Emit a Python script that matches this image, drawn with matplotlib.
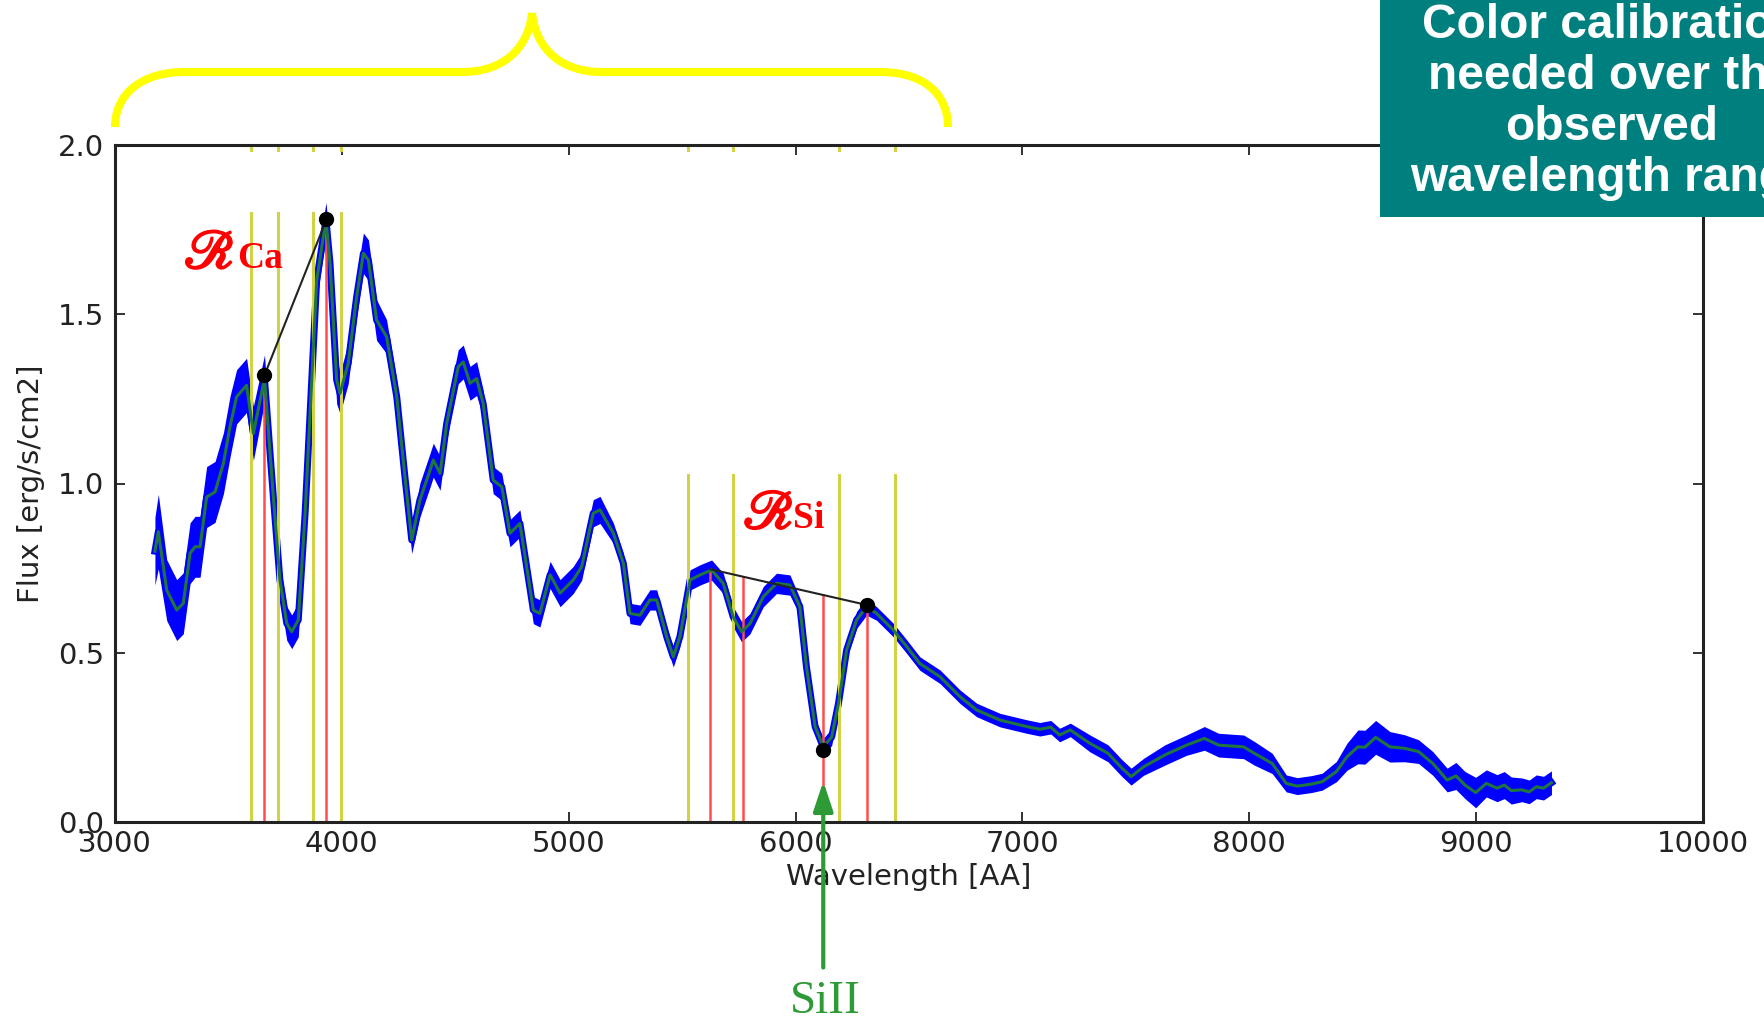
import numpy as np
import matplotlib
matplotlib.use('Agg')
import matplotlib.pyplot as plt
import matplotlib.patheffects as pe
from matplotlib.path import Path
from matplotlib.patches import PathPatch, Rectangle

# smoothed spectrum (green) and the scatter of the raw spectrum around it (blue)
wave = [3176, 3191, 3228, 3272, 3301, 3331, 3353, 3375, 3404, 3441,
        3478, 3507, 3536, 3580, 3610, 3659, 3698, 3727, 3757, 3779,
        3808, 3838, 3867, 3889, 3930, 3948, 3977, 3992, 4028, 4065,
        4095, 4117, 4153, 4197, 4242, 4278, 4308, 4344, 4389, 4403,
        4433, 4462, 4513, 4535, 4565, 4594, 4623, 4667, 4705, 4741,
        4785, 4844, 4873, 4918, 4962, 5020, 5057, 5108, 5138, 5197,
        5241, 5270, 5314, 5358, 5388, 5432, 5461, 5490, 5535, 5579,
        5630, 5681, 5725, 5762, 5799, 5858, 5916, 5975, 6019, 6048,
        6086, 6122, 6159, 6189, 6225, 6269, 6313, 6357, 6431, 6490,
        6548, 6637, 6725, 6798, 6901, 7019, 7077, 7125, 7164, 7211,
        7298, 7377, 7439, 7479, 7534, 7628, 7723, 7802, 7865, 7975,
        8022, 8101, 8163, 8211, 8274, 8321, 8384, 8431, 8479, 8510,
        8557, 8620, 8683, 8746, 8809, 8872, 8911, 8951, 8998, 9045,
        9092, 9124, 9155, 9202, 9234, 9265, 9297, 9332]
flux = [0.80, 0.858, 0.685, 0.626, 0.646, 0.794, 0.813, 0.813, 0.96, 0.975,
        1.06, 1.168, 1.256, 1.29, 1.148, 1.31, 0.96, 0.715, 0.587, 0.562,
        0.597, 0.912, 1.306, 1.60, 1.78, 1.65, 1.306, 1.266, 1.355, 1.551,
        1.68, 1.66, 1.483, 1.434, 1.256, 1.02, 0.833, 0.951, 1.04, 1.069,
        1.03, 1.177, 1.345, 1.359, 1.296, 1.31, 1.236, 1.01, 0.99, 0.853,
        0.882, 0.626, 0.616, 0.73, 0.676, 0.715, 0.754, 0.912, 0.922, 0.853,
        0.764, 0.616, 0.611, 0.656, 0.656, 0.547, 0.488, 0.547, 0.715, 0.73,
        0.744, 0.705, 0.606, 0.562, 0.586, 0.666, 0.705, 0.700, 0.636, 0.458,
        0.282, 0.222, 0.251, 0.35, 0.508, 0.597, 0.636, 0.616, 0.567, 0.518,
        0.468, 0.429, 0.37, 0.331, 0.301, 0.282, 0.274, 0.28, 0.257, 0.272,
        0.232, 0.203, 0.159, 0.134, 0.163, 0.198, 0.227, 0.247, 0.227, 0.222,
        0.203, 0.173, 0.114, 0.106, 0.112, 0.119, 0.149, 0.193, 0.222, 0.221,
        0.25, 0.222, 0.218, 0.208, 0.173, 0.124, 0.136, 0.109, 0.087, 0.114,
        0.10, 0.109, 0.093, 0.095, 0.089, 0.104, 0.10, 0.116]
spread = [0.10, 0.11, 0.09, 0.09, 0.09, 0.09, 0.09, 0.09, 0.09, 0.09,
          0.09, 0.09, 0.08, 0.08, 0.08, 0.07, 0.05, 0.05, 0.05, 0.05,
          0.05, 0.05, 0.06, 0.06, 0.05, 0.06, 0.07, 0.06, 0.06, 0.06,
          0.06, 0.06, 0.06, 0.05, 0.05, 0.04, 0.04, 0.05, 0.05, 0.05,
          0.05, 0.05, 0.05, 0.05, 0.05, 0.05, 0.04, 0.04, 0.04, 0.04,
          0.04, 0.04, 0.04, 0.04, 0.04, 0.04, 0.04, 0.04, 0.04, 0.03,
          0.03, 0.03, 0.03, 0.03, 0.03, 0.03, 0.03, 0.03, 0.03, 0.03,
          0.03, 0.03, 0.03, 0.03, 0.03, 0.03, 0.03, 0.03, 0.025, 0.025,
          0.025, 0.025, 0.025, 0.025, 0.025, 0.025, 0.025, 0.02, 0.02, 0.02,
          0.02, 0.02, 0.02, 0.02, 0.02, 0.02, 0.02, 0.02, 0.02, 0.02,
          0.025, 0.025, 0.025, 0.025, 0.025, 0.03, 0.03, 0.035, 0.035, 0.035,
          0.035, 0.03, 0.025, 0.025, 0.025, 0.025, 0.03, 0.04, 0.05, 0.05,
          0.05, 0.045, 0.04, 0.035, 0.035, 0.035, 0.04, 0.04, 0.045, 0.04,
          0.04, 0.04, 0.04, 0.035, 0.035, 0.035, 0.035, 0.035]

# feature windows (yellow) and their heights
ca_windows = [3600, 3718, 3872, 3996]
ca_window_top = 1.80
si_windows = [5526, 5724, 6191, 6438]
si_window_top = 1.025

# pseudo-continuum end points and the red markers
ca_cont_w = [3659, 3932]
ca_cont_f = [1.32, 1.78]
si_cont_w = [5623, 6315]
si_cont_f = [0.747, 0.641]
si_markers = [5623, 5768, 6122, 6315]
si_min = (6122, 0.213)

xticks = [3000, 4000, 5000, 6000, 7000, 8000, 9000, 10000]
yticks = [0.0, 0.5, 1.0, 1.5, 2.0]

W, H = 1765, 1016
fig = plt.figure(figsize=(W / 100, H / 100), dpi=100)
fig.patch.set_facecolor('white')
ax = fig.add_axes([115 / W, 1 - 822 / H, 1588 / W, 677 / H])

wave = np.array(wave)
flux = np.array(flux)
spread = np.array(spread)

ax.fill_between(wave, flux - spread, flux + spread, color='#0000ff', lw=0, zorder=1)
ax.plot(wave, flux, color='#0000ff', lw=5, zorder=1)

yel = '#d2d246'
for w in ca_windows:
    ax.plot([w, w], [0, ca_window_top], color=yel, lw=2.2, zorder=2)
    ax.axvline(w, ymin=0.993, ymax=1, color=yel, lw=2.2, zorder=2)
for w in si_windows:
    ax.plot([w, w], [0, si_window_top], color=yel, lw=2.2, zorder=2)
    ax.axvline(w, ymin=0.993, ymax=1, color=yel, lw=2.2, zorder=2)

red = '#ff4d4d'
for w, f in zip(ca_cont_w, ca_cont_f):
    ax.plot([w, w], [0, f], color=red, lw=1.8, zorder=2)
for w in si_markers:
    top = np.interp(w, si_cont_w, si_cont_f)
    ax.plot([w, w], [0, top], color=red, lw=1.8, zorder=2)

ax.plot(wave, flux, color='#1e7540', lw=2.2, zorder=3)

ax.plot(ca_cont_w, ca_cont_f, color='#222222', lw=1.5, zorder=4)
ax.plot(si_cont_w, si_cont_f, color='#222222', lw=1.5, zorder=4)
ax.plot(ca_cont_w, ca_cont_f, 'o', color='black', ms=10, zorder=5)
ax.plot([si_cont_w[1], si_min[0]], [si_cont_f[1], si_min[1]], 'o',
        color='black', ms=10, zorder=5)

ax.set_xlim(3000, 10000)
ax.set_ylim(0, 2.0)
ax.set_xticks(xticks)
ax.set_yticks(yticks)
ax.set_yticklabels(['%.1f' % v for v in yticks])
ax.tick_params(direction='in', top=True, right=True, length=7, width=1.3,
               labelsize=21, labelcolor='#222222', color='#222222')
ax.tick_params(axis='x', pad=6)
ax.tick_params(axis='y', pad=8)
for spine in ax.spines.values():
    spine.set_linewidth(2.2)
    spine.set_edgecolor('#222222')

ax.set_xlabel('Wavelength [AA]', fontsize=21, color='#222222')
ax.set_ylabel('Flux [erg/s/cm2]', fontsize=21, color='#222222')
ax.xaxis.set_label_coords(0.5, -0.060)
ax.yaxis.set_label_coords(-0.044, 0.5)

# ratio labels
thick = [pe.withStroke(linewidth=1.6, foreground='red')]
ax.text(3305, 1.637, '\u211B', color='red', fontsize=39, family='STIXGeneral',
        ha='left', va='baseline', zorder=6, path_effects=thick)
ax.text(3540, 1.637, 'Ca', color='red', fontsize=27, family='Liberation Serif',
        weight='bold', ha='left', va='baseline', zorder=6)
ax.text(5770, 0.868, '\u211B', color='red', fontsize=39, family='STIXGeneral',
        ha='left', va='baseline', zorder=6, path_effects=thick)
ax.text(5990, 0.868, 'Si', color='red', fontsize=27, family='Liberation Serif',
        weight='bold', ha='left', va='baseline', zorder=6)

# SiII arrow below the axis
grn = '#2e9a35'
ax.annotate('', xy=(si_min[0], 0.12), xytext=(si_min[0], -0.43),
            arrowprops=dict(arrowstyle='-|>,head_length=0.6,head_width=0.2',
                            color=grn, lw=3, mutation_scale=30,
                            shrinkA=0, shrinkB=0),
            annotation_clip=False, zorder=6)
ax.text(si_min[0] + 10, -0.565, 'SiII', color=grn, fontsize=34,
        family='Liberation Serif', ha='center', va='baseline', clip_on=False)

# brace over the fitted wavelength range
pts = [(115, 127), (115, 95), (140, 72), (185, 72),
       (462, 72), (502, 72), (528, 50), (532, 13),
       (532, 13), (536, 50), (562, 72), (602, 72),
       (880, 72), (925, 72), (948, 95), (948, 127)]
codes = [Path.MOVETO, Path.CURVE4, Path.CURVE4, Path.CURVE4,
         Path.LINETO, Path.CURVE4, Path.CURVE4, Path.CURVE4,
         Path.MOVETO, Path.CURVE4, Path.CURVE4, Path.CURVE4,
         Path.LINETO, Path.CURVE4, Path.CURVE4, Path.CURVE4]
verts = [(x / W, 1 - y / H) for x, y in pts]
fig.add_artist(PathPatch(Path(verts, codes), transform=fig.transFigure,
                         fill=False, edgecolor='#ffff00', lw=5.8))

# note box, top right
fig.add_artist(Rectangle((1380 / W, 1 - 217 / H), 1 - 1380 / W, 217 / H,
                         transform=fig.transFigure, facecolor='#007f7f',
                         edgecolor='none'))
fig.text(1612 / W, 1 - 102 / H,
         'Color calibration\nneeded over the\nobserved\nwavelength range',
         ha='center', va='center', fontsize=34.5, weight='bold',
         family='Liberation Sans', color='white', linespacing=1.18)

fig.savefig('out.png', dpi=100, facecolor='white')
